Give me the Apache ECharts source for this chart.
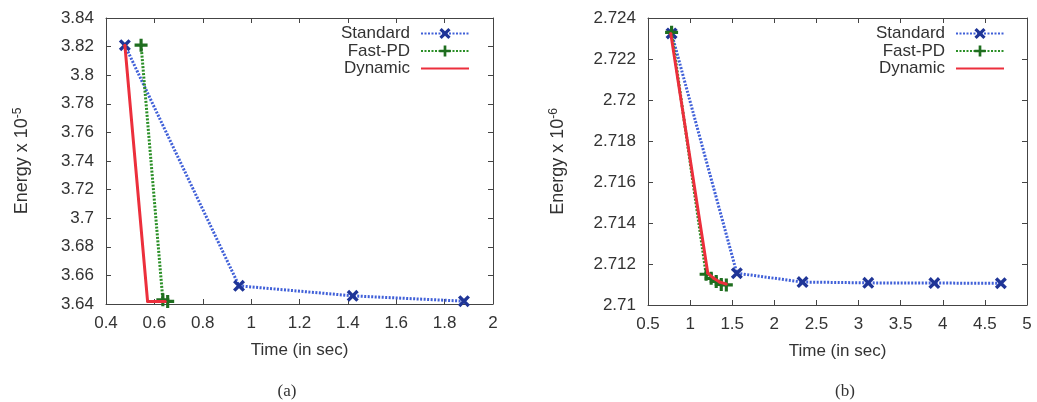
<!DOCTYPE html>
<html>
<head>
<meta charset="utf-8">
<script src="https://cdn.jsdelivr.net/npm/echarts@6/dist/echarts.min.js"></script>
<style>
html,body{margin:0;padding:0;background:#fff;}
#c{width:1037px;height:402px;}
</style>
</head>
<body>
<div id="c"></div>
<script>
// ---- Data: panel (a) ----
var seriesNames = ['Standard', 'Fast-PD', 'Dynamic'];
var aStandard = [[0.478, 3.821], [0.95, 3.6527], [1.42, 3.6457], [1.88, 3.6420]];
var aFastPD   = [[0.545, 3.821], [0.635, 3.643], [0.655, 3.6418]];
var aDynamic  = [[0.478, 3.821], [0.572, 3.6417], [0.645, 3.6417]];
// ---- Data: panel (b) ----
var bStandard = [[0.78, 2.72325], [1.555, 2.71155], [2.335, 2.71112], [3.115, 2.71108], [3.9, 2.71107], [4.69, 2.71106]];
var bFastPD   = [[0.78, 2.72330], [1.19, 2.71150], [1.25, 2.71130], [1.31, 2.71115], [1.37, 2.71100], [1.43, 2.71098]];
var bDynamic  = [[0.77, 2.72325], [1.21, 2.71155], [1.28, 2.71130], [1.35, 2.71112], [1.43, 2.71102]];
// ---- Axis settings ----
var aX = {min: 0.4, max: 2, interval: 0.2};
var aY = {min: 3.64, max: 3.84, interval: 0.02};
var bX = {min: 0.5, max: 5, interval: 0.5};
var bY = {min: 2.71, max: 2.724, interval: 0.002};
var xTitle = 'Time (in sec)';
var aYTitle = ['Energy x 10', '-5'];
var bYTitle = ['Energy x 10', '-6'];
var panelLabels = ['(a)', '(b)'];

var FONT = '"Liberation Sans", Arial, sans-serif';
var TXT = '#333';
var fmt = function (v) { return String(parseFloat(v.toFixed(4))); };

var X_SYM = 'path://M2,0 L5,3 L8,0 L10,2 L7,5 L10,8 L8,10 L5,7 L2,10 L0,8 L3,5 L0,2 Z';
var P_SYM = 'path://M3.8,0 H6.2 V3.8 H10 V6.2 H6.2 V10 H3.8 V6.2 H0 V3.8 H3.8 Z';

function xAxisPair(gi, r) {
  var base = {gridIndex: gi, type: 'value', min: r.min, max: r.max, interval: r.interval,
    splitLine: {show: false},
    axisLine: {show: true, onZero: false, lineStyle: {color: '#444', width: 1}},
    axisTick: {show: true, inside: true, length: 5, lineStyle: {color: '#444'}}};
  var bottom = Object.assign({}, base, {position: 'bottom',
    axisLabel: {show: true, formatter: fmt, color: TXT, fontSize: 17, fontFamily: FONT, margin: 11},
    name: xTitle, nameLocation: 'middle', nameGap: 38,
    nameTextStyle: {color: TXT, fontSize: 17, fontFamily: FONT}});
  var top = Object.assign({}, base, {position: 'top', axisLabel: {show: false}});
  return [bottom, top];
}
function yAxisPair(gi, r, title, gap) {
  var base = {gridIndex: gi, type: 'value', min: r.min, max: r.max, interval: r.interval,
    splitLine: {show: false},
    axisLine: {show: true, onZero: false, lineStyle: {color: '#444', width: 1}},
    axisTick: {show: true, inside: true, length: 5, lineStyle: {color: '#444'}}};
  var left = Object.assign({}, base, {position: 'left',
    axisLabel: {show: true, formatter: fmt, color: TXT, fontSize: 17, fontFamily: FONT, margin: 12},
    name: '{m|' + title[0] + '}{s|' + title[1] + '}', nameLocation: 'middle', nameGap: gap, nameRotate: 90,
    nameTextStyle: {color: TXT, fontSize: 18, fontFamily: FONT,
      rich: {m: {fontSize: 18, fontFamily: FONT, color: TXT},
             s: {fontSize: 12, fontFamily: FONT, color: TXT, verticalAlign: 'top', padding: [0, 0, 8, 0]}}}});
  var right = Object.assign({}, base, {position: 'right', axisLabel: {show: false}});
  return [left, right];
}

function mkSeries(gi, std, fpd, dyn) {
  return [
    {name: 'Standard', type: 'line', xAxisIndex: gi * 2, yAxisIndex: gi * 2, data: std,
     symbol: X_SYM, symbolSize: 12,
     itemStyle: {color: '#1f3597'},
     lineStyle: {color: '#4060d8', width: 3, type: [2, 1.5]}, z: 2},
    {name: 'Fast-PD', type: 'line', xAxisIndex: gi * 2, yAxisIndex: gi * 2, data: fpd,
     symbol: P_SYM, symbolSize: 13,
     itemStyle: {color: '#1f6e1f'},
     lineStyle: {color: '#2a8f26', width: 3, type: [2, 1.5]}, z: 3},
    {name: 'Dynamic', type: 'line', xAxisIndex: gi * 2, yAxisIndex: gi * 2, data: dyn,
     symbol: 'circle', symbolSize: 3,
     itemStyle: {color: '#e8303c'},
     lineStyle: {color: '#ec2f3c', width: 3, type: 'solid'}, z: 4}
  ];
}

function mkLegend(right) {
  return {orient: 'vertical', align: 'right', right: right, top: 20, itemWidth: 48, itemHeight: 14,
    itemGap: 0.5,
    data: ['Standard', 'Fast-PD', {name: 'Dynamic', itemStyle: {opacity: 0}}],
    textStyle: {color: TXT, fontSize: 17, lineHeight: 14, fontFamily: FONT, padding: [0, 6, 0, 0]},
    selectedMode: false};
}

var xa = xAxisPair(0, aX), xb = xAxisPair(1, bX);
var ya = yAxisPair(0, aY, aYTitle, 74), yb = yAxisPair(1, bY, bYTitle, 80);

var chart = echarts.init(document.getElementById('c'), null, {renderer: 'canvas'});
chart.setOption({
  animation: false,
  backgroundColor: '#fff',
  grid: [
    {left: 106, top: 18, width: 387, height: 286, containLabel: false},
    {left: 648, top: 18, width: 379, height: 287, containLabel: false}
  ],
  xAxis: [xa[0], xa[1], xb[0], xb[1]],
  yAxis: [ya[0], ya[1], yb[0], yb[1]],
  legend: [mkLegend(562), mkLegend(27)],
  title: [
    {text: panelLabels[0], left: 282, top: 378, textAlign: 'center',
     textStyle: {fontFamily: '"Liberation Serif", "DejaVu Serif", serif', fontWeight: 'normal', fontSize: 17, color: TXT}},
    {text: panelLabels[1], left: 840, top: 378, textAlign: 'center',
     textStyle: {fontFamily: '"Liberation Serif", "DejaVu Serif", serif', fontWeight: 'normal', fontSize: 17, color: TXT}}
  ],
  series: mkSeries(0, aStandard, aFastPD, aDynamic).concat(mkSeries(1, bStandard, bFastPD, bDynamic))
});
</script>
</body>
</html>
